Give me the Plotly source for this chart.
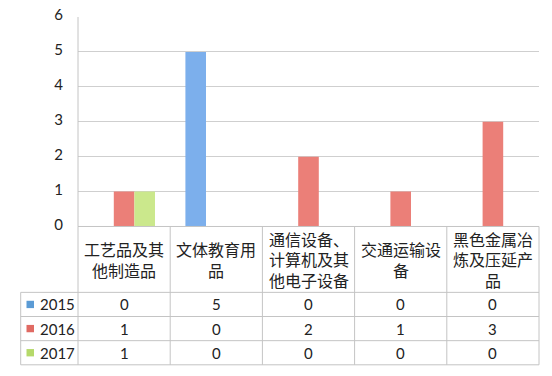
import plotly.graph_objects as go

categories = ["工艺品及其他制造品", "文体教育用品", "通信设备、计算机及其他电子设备", "交通运输设备", "黑色金属冶炼及压延产品"]
header_lines = [["工艺品及其", "他制造品"], ["文体教育用", "品"], ["通信设备、", "计算机及其", "他电子设备"],
                ["交通运输设", "备"], ["黑色金属冶", "炼及压延产", "品"]]
series_names = ["2015", "2016", "2017"]
v2015 = [0, 5, 0, 0, 0]
v2016 = [1, 0, 2, 1, 3]
v2017 = [1, 0, 0, 0, 0]
y_ticks = [0, 1, 2, 3, 4, 5, 6]

series_values = [v2015, v2016, v2017]
bar_colors = ["#7cafec", "#eb7f78", "#cbe88c"]
legend_colors = ["#5b9bd5", "#e06a63", "#b5d96a"]

W, H = 552, 376
ML, MR, MT, MB = 78, 13, 15, 5
plot_w = W - ML - MR
plot_h = H - MT - MB
axis_bottom_px = 229.3
header_h = 67.4
row_h = 24.7
line_gap = 21.0

def py(px):
    return (H - MB - px) / plot_h

def pxx(px):
    return (px - ML) / plot_w

fig = go.Figure()
for name, vals, col in zip(series_names, series_values, bar_colors):
    fig.add_trace(go.Bar(x=categories, y=vals, name=name, marker=dict(color=col, line=dict(width=0)),
                         showlegend=False, hoverinfo="skip"))

line_col = "#c4c4c4"
grid_col = "#cfcfcf"
font_num = "Lato, 'Liberation Sans', sans-serif"
font_cjk = "'Noto Sans CJK SC', sans-serif"

y_dom_bottom = py(axis_bottom_px)
fig.update_layout(
    width=W, height=H,
    margin=dict(l=ML, r=MR, t=MT, b=MB),
    paper_bgcolor="white", plot_bgcolor="white",
    barmode="group", bargap=0.33, bargroupgap=0,
    xaxis=dict(showticklabels=False, showgrid=False, showline=False, zeroline=False,
               range=[-0.5, len(categories) - 0.5], fixedrange=True),
    yaxis=dict(domain=[y_dom_bottom, 1], range=[0, 6], tickvals=y_ticks, showgrid=True,
               gridcolor=grid_col, gridwidth=1, showline=False, zeroline=False,
               ticks="", ticklabelstandoff=14, ticklabelshift=-2,
               tickfont=dict(family=font_num, size=15, color="#222")),
)

shapes = []
legend_left = pxx(20.7)
header_top = py(axis_bottom_px)
header_bot = py(axis_bottom_px + header_h)
row_lines = [py(axis_bottom_px + header_h + row_h * (i + 1)) for i in range(3)]
shapes.append(dict(type="line", xref="paper", yref="paper", x0=0, x1=0, y0=header_top, y1=1,
                   line=dict(color=line_col, width=1)))
shapes.append(dict(type="line", xref="paper", yref="paper", x0=0, x1=1, y0=header_top, y1=header_top,
                   line=dict(color=line_col, width=1)))
for yy in [header_bot] + row_lines:
    shapes.append(dict(type="line", xref="paper", yref="paper", x0=legend_left, x1=1, y0=yy, y1=yy,
                       line=dict(color=line_col, width=1)))
n = len(categories)
for k in range(n + 1):
    shapes.append(dict(type="line", xref="paper", yref="paper", x0=k / n, x1=k / n, y0=row_lines[-1], y1=header_top,
                       line=dict(color=line_col, width=1)))
shapes.append(dict(type="line", xref="paper", yref="paper", x0=legend_left, x1=legend_left, y0=row_lines[-1], y1=header_bot,
                   line=dict(color=line_col, width=1)))

annotations = []
header_center_px = axis_bottom_px + header_h / 2
for cat, lines in zip(categories, header_lines):
    m = len(lines)
    for j, t in enumerate(lines):
        ypx = header_center_px + (j - (m - 1) / 2) * line_gap
        annotations.append(dict(x=cat, xref="x", y=py(ypx), yref="paper", text=t,
                                showarrow=False, xanchor="center", yanchor="middle",
                                font=dict(family=font_cjk, size=16, color="#222")))
row_tops = [header_bot] + row_lines[:-1]
for i, (name, vals, lc) in enumerate(zip(series_names, series_values, legend_colors)):
    yc = (row_tops[i] + row_lines[i]) / 2
    for cat, v in zip(categories, vals):
        annotations.append(dict(x=cat, xref="x", y=yc, yref="paper", text=str(v), showarrow=False,
                                xanchor="center", yanchor="middle",
                                font=dict(family=font_num, size=15, color="#222")))
    annotations.append(dict(x=pxx(38), xref="paper", y=yc, yref="paper", text=name, showarrow=False,
                            xanchor="left", yanchor="middle", font=dict(family=font_num, size=15, color="#222")))
    sq = 7.5 / plot_h
    shapes.append(dict(type="rect", xref="paper", yref="paper", x0=pxx(26.5), x1=pxx(34), y0=yc - sq / 2, y1=yc + sq / 2,
                       fillcolor=lc, line=dict(width=0)))

fig.update_layout(shapes=shapes, annotations=annotations)
fig.write_html("out.html")
